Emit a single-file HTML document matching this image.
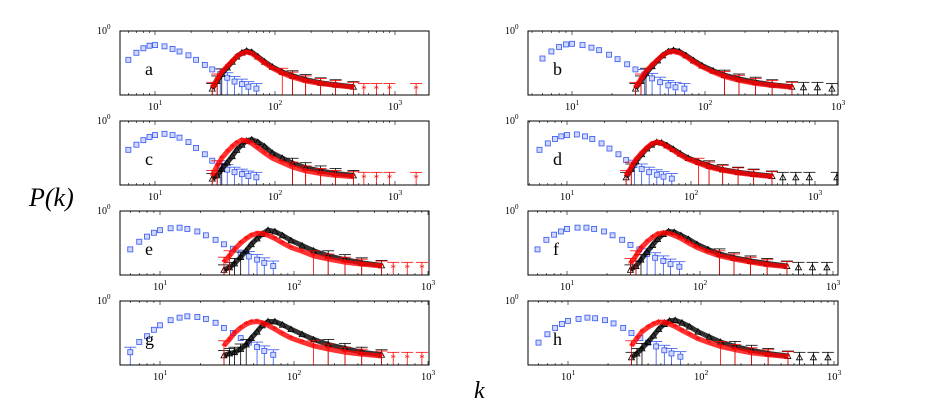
<!DOCTYPE html>
<html><head><meta charset="utf-8"><style>
body{margin:0;background:#fff;width:926px;height:411px;overflow:hidden;font-family:"Liberation Serif",serif}
svg{display:block}
</style></head><body>
<svg id="chart" width="926" height="411" xmlns="http://www.w3.org/2000/svg">
<text x="29" y="206" font-size="26" font-style="italic" font-family="Liberation Serif,serif">P(k)</text>
<text x="474" y="398" font-size="24" font-style="italic" font-family="Liberation Serif,serif">k</text>
</svg>
<script>
const blueK=[6,7,8,9,10,12,14,16,19,22,26,30,35,40,46,53,60,70];
const curveK=[30,33,36,40,44,48,53,58,64,72,82,95,115,140,180,240,320,450];
const tailK=[550,700,900,1500];
const panelLetters=['a','b','c','d','e','f','g','h'];
const blueVals=[
[.55,.66,.73,.77,.78,.76,.72,.68,.62,.55,.47,.40,.33,.27,.21,.17,.13,.10],
[.57,.68,.75,.79,.80,.78,.74,.70,.63,.56,.48,.40,.32,.26,.20,.15,.12,.10],
[.55,.63,.70,.75,.78,.80,.78,.74,.67,.58,.48,.38,.30,.24,.20,.17,.14,.12],
[.55,.65,.72,.76,.78,.79,.76,.72,.65,.57,.48,.39,.31,.25,.20,.16,.13,.10],
[.40,.52,.60,.66,.70,.73,.74,.72,.68,.62,.55,.48,.41,.35,.29,.24,.19,.14],
[.40,.55,.63,.68,.72,.74,.74,.72,.68,.62,.55,.47,.40,.33,.27,.22,.17,.13],
[.20,.36,.45,.55,.62,.70,.74,.76,.75,.72,.66,.58,.50,.42,.35,.28,.22,.16],
[.35,.48,.58,.64,.69,.72,.74,.73,.70,.65,.58,.50,.42,.35,.29,.23,.18,.13]];
const blackVals=[
[.10,.22,.33,.43,.52,.60,.66,.69,.67,.60,.52,.44,.36,.30,.24,.19,.16,.13],
[.10,.22,.34,.45,.54,.62,.68,.70,.68,.62,.54,.46,.38,.31,.25,.20,.16,.13],
[.10,.15,.25,.35,.45,.55,.63,.69,.71,.67,.60,.50,.42,.34,.27,.22,.18,.15],
[.12,.25,.37,.48,.57,.63,.67,.66,.62,.56,.49,.42,.36,.30,.24,.20,.17,.14],
[.08,.12,.18,.28,.38,.48,.57,.64,.70,.68,.62,.54,.46,.38,.30,.24,.19,.15],
[.08,.14,.24,.36,.47,.56,.64,.68,.67,.62,.56,.48,.40,.33,.27,.22,.18,.14],
[.15,.18,.20,.25,.32,.42,.52,.62,.68,.68,.63,.56,.48,.40,.32,.26,.20,.16],
[.12,.18,.26,.36,.46,.56,.64,.69,.70,.66,.60,.52,.44,.36,.29,.23,.18,.14]];
const redVals=[
[.12,.25,.36,.45,.53,.60,.65,.67,.65,.58,.50,.42,.34,.28,.22,.18,.15,.12],
[.12,.25,.37,.47,.55,.62,.67,.68,.66,.60,.52,.44,.36,.29,.23,.18,.15,.12],
[.15,.30,.42,.52,.60,.66,.70,.69,.65,.58,.50,.42,.35,.28,.22,.18,.15,.13],
[.15,.28,.40,.50,.58,.64,.67,.65,.60,.54,.47,.40,.34,.28,.23,.19,.16,.13],
[.20,.30,.40,.50,.57,.62,.65,.65,.62,.57,.50,.43,.37,.30,.25,.20,.17,.14],
[.18,.30,.42,.52,.59,.64,.66,.65,.62,.57,.50,.43,.36,.30,.25,.20,.16,.13],
[.30,.40,.50,.58,.64,.67,.68,.66,.62,.56,.49,.42,.36,.30,.25,.20,.17,.14],
[.30,.42,.52,.59,.64,.67,.67,.64,.60,.54,.48,.41,.35,.29,.24,.19,.16,.13]];
const tailVals=[
[.10,.10,.10,.10],[.12,.12,.10,.10],[.12,.12,.12,.12],[.12,.12,.12,.12],
[.12,.12,.12,.12],[.12,.12,.12,.12],[.12,.12,.12,.12],[.12,.12,.12,.12]];
const layout=[
{l:120,r:429,t:31,x10:155,dec:120},{l:528,r:838,t:31,x10:572,dec:133},
{l:120,r:429,t:121,x10:155,dec:120},{l:528,r:838,t:121,x10:567,dec:124},
{l:120,r:429,t:211,x10:160,dec:134},{l:528,r:838,t:211,x10:567,dec:133},
{l:120,r:429,t:301,x10:160,dec:134},{l:528,r:838,t:301,x10:568,dec:133}];
const H=64, NS='http://www.w3.org/2000/svg';
const svg=document.getElementById('chart');
function mk(tag,attrs,parent){const e=document.createElementNS(NS,tag);for(const k in attrs)e.setAttribute(k,attrs[k]);(parent||svg).appendChild(e);return e;}
layout.forEach((L,i)=>{
  const g=mk('g',{});
  
  
  const xs=k=>L.x10+(Math.log10(k)-1)*L.dec;
  const ys=v=>L.t+H-v*H;
  const clip='clip'+i;
  const cp=mk('clipPath',{id:clip},g);mk('rect',{x:L.l,y:L.t,width:L.r-L.l,height:H},cp);
  for(let d=0;d<=3;d++)for(let m=1;m<=9;m++){const x=xs(m*Math.pow(10,d));if(x<L.l||x>L.r)continue;const len=m==1?4:2;
    mk('line',{x1:x,x2:x,y1:L.t+H,y2:L.t+H-len,stroke:'#000','stroke-width':.6},g);mk('line',{x1:x,x2:x,y1:L.t,y2:L.t+len,stroke:'#000','stroke-width':.6},g);}
  [1,2,3].forEach(d=>{const x=xs(Math.pow(10,d));const t=mk('text',{x:x-7,y:L.t+H+15,'font-size':10.5,'font-family':'Liberation Serif,serif'},g);t.textContent='10';const s=mk('tspan',{dy:-5,'font-size':7.5},t);s.textContent=String(d);
    
    });
  const yl=mk('text',{x:L.l-23,y:L.t+3,'font-size':10,'font-family':'Liberation Serif,serif'},g);yl.textContent='10';const ys0=mk('tspan',{dy:-5,'font-size':7},yl);ys0.textContent='0';
  
  
  const dg=mk('g',{'clip-path':'url(#'+clip+')'},g);
  function series(ks,vals,color,kind,name,band){
    const sg=mk('g',{},dg);
    
    
    if(band)mk('polyline',{points:ks.map((k,j)=>xs(k)+','+ys(vals[j])).join(' '),fill:'none',stroke:color,'stroke-width':5,'stroke-opacity':.8},sg);
    ks.forEach((k,j)=>{const x=xs(k),y=ys(vals[j]);
      if(vals[j]<.35){mk('line',{x1:x,x2:x,y1:y-5,y2:L.t+H,stroke:color,'stroke-width':.8},sg);mk('line',{x1:x-6,x2:x+6,y1:y-5,y2:y-5,stroke:color,'stroke-width':.8},sg);}
      if(kind=='sq')mk('rect',{x:x-2.5,y:y-2.5,width:5,height:5,fill:'#d0d8ff',stroke:color,'stroke-width':.8},sg);
      else if(kind=='tri')mk('path',{d:`M${x-3},${y+2.5}L${x+3},${y+2.5}L${x},${y-3}Z`,fill:'none',stroke:color,'stroke-width':.8},sg);
      else mk('text',{x:x,y:y+4,'text-anchor':'middle','font-size':11,fill:color},sg).textContent='*';});
  }
  series(blueK,blueVals[i],'#3355ee','sq','blue-series',false);
  series(curveK,blackVals[i],'#000','tri','black-series',true);
  series(curveK,redVals[i],'#ff0000','star','red-series',true);
  series(tailK,tailVals[i],i%2?'#000':'#ff0000',i%2?'tri':'star','tail-points',false);
  mk('rect',{x:L.l,y:L.t,width:L.r-L.l,height:H,fill:'none',stroke:'#000','stroke-width':1},g);
  const lt=mk('text',{x:L.l+25,y:L.t+44,'font-size':18,'font-family':'Liberation Serif,serif'},g);lt.textContent=panelLetters[i];
  
  
});
</script>
</body></html>
